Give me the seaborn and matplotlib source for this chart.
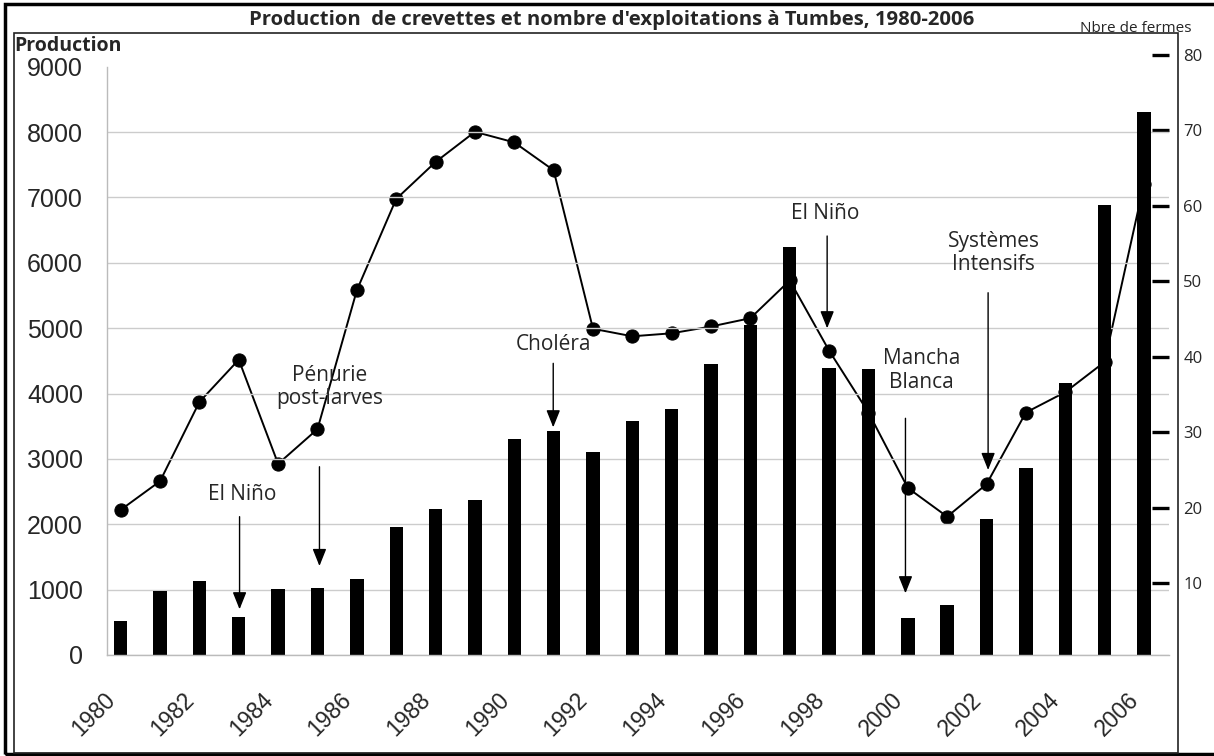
import numpy as np
import pandas as pd
import seaborn as sns
import matplotlib.pyplot as plt
from matplotlib.patches import Rectangle
from matplotlib.transforms import ScaledTranslation

# data
years = list(range(1980, 2007))
production = [525, 985, 1135, 575, 1015, 1020, 1165, 1960, 2230, 2365, 3300, 3425,
              3105, 3580, 3765, 4450, 5050, 6245, 4395, 4370, 565, 765, 2075, 2855,
              4165, 6885, 8300]
fermes = [19.7, 23.5, 34.0, 39.6, 25.8, 30.4, 48.8, 60.9, 65.8, 69.8, 68.4, 64.7,
          43.7, 42.7, 43.1, 44.0, 45.1, 50.1, 40.8, 32.6, 22.6, 18.8, 23.1, 32.6,
          35.3, 39.3, 62.9]
prod_ticks = list(range(0, 9001, 1000))
fermes_ticks = list(range(10, 81, 10))
events = ['El Niño', 'Pénurie\npost-larves', 'Choléra', 'El Niño', 'Mancha\nBlanca',
          'Systèmes\nIntensifs']
event_years = [1983, 1985, 1991, 1998, 2000, 2002]

sns.set_style('white')
plt.rcParams['font.family'] = ['Open Sans', 'DejaVu Sans']

W, H = 1214, 756
fig = plt.figure(figsize=(W / 100, H / 100), dpi=100)

def fx(x):
    return x / W

def fy(y):
    return 1 - y / H

# plot area in pixels
left, right = 106.7, 1169.3
ax = fig.add_axes([fx(left), fy(655), fx(right - left), (655 - 66.7) / H])
ax2 = fig.add_axes([fx(left), fy(658.5), fx(right - left), (658.5 - 47.3) / H], sharex=ax)

df = pd.DataFrame({'year': years, 'production': production})
sns.barplot(data=df, x='year', y='production', color='black', width=0.34,
            linewidth=0, saturation=1, ax=ax)

sns.lineplot(x=np.arange(len(years)), y=fermes, ax=ax2, color='black', lw=1.4,
             marker='o', markersize=9.5, markeredgecolor='black')

# bars drawn above the line
ax.set_zorder(ax2.get_zorder() + 1)
ax.patch.set_visible(False)

# left axis
ax.set_ylim(0, 9000)
ax.set_yticks(prod_ticks)
ax.yaxis.grid(True, color='#cccccc', lw=1)
ax.get_ygridlines()[-1].set_visible(False)
ax.set_axisbelow(True)
for s in ['top', 'right']:
    ax.spines[s].set_visible(False)
for s in ['left', 'bottom']:
    ax.spines[s].set_color('#bbbbbb')
    ax.spines[s].set_linewidth(1)
ax.tick_params(axis='y', direction='out', length=6, width=1, color='#bbbbbb',
               pad=11, labelsize=18)
for lab in ax.get_yticklabels():
    lab.set_family('Liberation Sans')
ax.set_xlabel('')
ax.set_ylabel('')

# x axis: labels every two years, small ticks between categories
n = len(years)
ax.set_xticks(np.arange(0, n, 2))
ax.set_xticklabels([str(y) for y in years[::2]], rotation=45, ha='right',
                   rotation_mode='anchor', fontsize=16.5, family='Liberation Sans')
ax.set_xticks(np.arange(n + 1) - 0.356, minor=True)
ax.tick_params(axis='x', which='major', length=0, pad=24)
ax.tick_params(axis='x', which='minor', direction='out', length=7, width=1,
               color='#bbbbbb')
shift = ScaledTranslation(-0.17, 0, fig.dpi_scale_trans)
for lab in ax.get_xticklabels():
    lab.set_transform(lab.get_transform() + shift)
ax.set_xlim(-0.356, n - 0.356)

# right axis
ax2.set_ylim(0, 81)
ax2.set_yticks(fermes_ticks)
ax2.yaxis.tick_right()
ax2.tick_params(axis='y', direction='in', length=12, width=2.4, color='black',
                pad=10, labelsize=12)
ax2.tick_params(axis='x', which='both', bottom=False, labelbottom=False)
for s in ax2.spines.values():
    s.set_visible(False)
ax2.patch.set_visible(False)
ax2.set_xlabel('')
ax2.set_ylabel('')

# event annotations (text centre, arrow start and tip in production units)
text_x = [3.08, 5.32, 10.99, 17.91, 20.34, 22.18]
text_y = [2448, 4100, 4757, 6761, 4352, 6150]
arrow_x = [3.02, 5.05, 10.99, 17.95, 19.94, 22.04]
arrow_from = [2116, 2880, 4462, 6410, 3621, 5542]
arrow_to = [699, 1361, 3483, 4998, 944, 2830]
for i, label in enumerate(events):
    ax.text(text_x[i], text_y[i], label, ha='center', va='center', fontsize=15,
            linespacing=1.15, zorder=5)
    ax.annotate('', xy=(arrow_x[i], arrow_to[i]), xytext=(arrow_x[i], arrow_from[i]),
                arrowprops=dict(arrowstyle='-|>,head_length=0.7,head_width=0.28',
                                color='black', lw=1, shrinkA=0, shrinkB=0,
                                mutation_scale=15), zorder=5)

# titles
fig.text(fx(612), fy(25), "Production  de crevettes et nombre d'exploitations à Tumbes, 1980-2006",
         ha='center', va='baseline', fontsize=14.6, fontweight='bold')
fig.text(fx(14), fy(51), 'Production', ha='left', va='baseline', fontsize=14,
         fontweight='bold')
fig.text(fx(1080), fy(32), 'Nbre de fermes', ha='left', va='baseline', fontsize=11)

# frames
fig.add_artist(Rectangle((fx(5), fy(754)), fx(1240), (754 - 3.5) / H, transform=fig.transFigure,
                         fill=False, lw=2.5, edgecolor='black'))
fig.add_artist(Rectangle((fx(14), fy(753)), fx(1178 - 14), (753 - 33) / H,
                         transform=fig.transFigure, fill=False, lw=1.2, edgecolor='#222222'))

fig.savefig('out.png', dpi=100, facecolor='white')
